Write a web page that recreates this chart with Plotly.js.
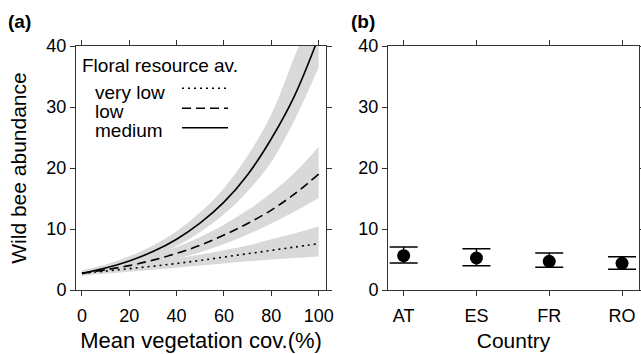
<!DOCTYPE html>
<html>
<head>
<meta charset="utf-8">
<script src="https://cdn.plot.ly/plotly-3.0.1.min.js"></script>
<style>html,body{margin:0;padding:0;background:#fff;}#chart{width:641px;height:354px;}</style>
</head>
<body>
<div id="chart"></div>
<script>
// ---- Data: panel (a) ----
const vegCover = [0, 10, 20, 30, 40, 50, 60, 70, 80, 90, 100];
const veryLowMean  = [2.73, 3.1, 3.5, 3.9, 4.35, 4.85, 5.4, 5.95, 6.5, 7.05, 7.6];
const veryLowLower = [2.35, 2.7, 3.0, 3.3, 3.65, 4.0, 4.35, 4.7, 5.0, 5.25, 5.5];
const veryLowUpper = [3.2, 3.6, 4.1, 4.6, 5.15, 5.8, 6.5, 7.3, 8.3, 9.3, 10.4];
const lowMean  = [2.73, 3.32, 4.0, 4.9, 6.0, 7.35, 9.0, 10.9, 13.1, 15.8, 19.0];
const lowLower = [2.35, 2.85, 3.45, 4.2, 5.1, 6.2, 7.55, 9.1, 10.9, 12.9, 15.1];
const lowUpper = [3.2, 3.85, 4.65, 5.7, 7.05, 8.7, 10.7, 13.1, 15.9, 19.3, 23.5];
const mediumMean  = [2.73, 3.61, 4.77, 6.3, 8.33, 11.0, 14.4, 18.9, 24.8, 32.0, 41.5];
const mediumLower = [2.35, 3.1, 4.1, 5.45, 7.2, 9.5, 12.4, 16.2, 21.0, 28.0, 36.5];
const mediumUpper = [3.2, 4.2, 5.55, 7.3, 9.65, 12.75, 16.7, 22.0, 28.8, 38.5, 48.0];
const vegTicks = [0, 20, 40, 60, 80, 100];
const levelNames = ['very low', 'low', 'medium'];

// ---- Data: panel (b) ----
const countries = ['AT', 'ES', 'FR', 'RO'];
const countryMean  = [5.62, 5.25, 4.7, 4.37];
const countryUpper = [7.05, 6.77, 6.07, 5.46];
const countryLower = [4.43, 3.98, 3.72, 3.39];
const abundanceTicks = [0, 10, 20, 30, 40];

// ---- helpers (pixel -> paper) ----
const W = 641, H = 354;
const px = v => v / W;
const py = v => 1 - v / H;
const FONT = 'Liberation Sans, Arial, sans-serif';
const BAND = '#d9d9d9';
const DOT = '2px,4px';
const DASH = '9px,5px';

function band(lower, upper) {
  return [
    {x: vegCover, y: lower, mode: 'lines', line: {width: 0, shape: 'spline'}, showlegend: false, hoverinfo: 'skip', xaxis: 'x', yaxis: 'y'},
    {x: vegCover, y: upper, mode: 'lines', line: {width: 0, shape: 'spline'}, fill: 'tonexty', fillcolor: BAND, showlegend: false, hoverinfo: 'skip', xaxis: 'x', yaxis: 'y'}
  ];
}
function meanLine(y, dash, name) {
  return {x: vegCover, y: y, mode: 'lines', name: name, line: {color: '#000', width: 1.6, dash: dash, shape: 'spline'}, showlegend: false, xaxis: 'x', yaxis: 'y'};
}

const traces = [
  ...band(veryLowLower, veryLowUpper),
  ...band(lowLower, lowUpper),
  ...band(mediumLower, mediumUpper),
  meanLine(veryLowMean, DOT, levelNames[0]),
  meanLine(lowMean, DASH, levelNames[1]),
  meanLine(mediumMean, 'solid', levelNames[2]),
  {
    x: countries, y: countryMean, mode: 'markers', xaxis: 'x2', yaxis: 'y2', showlegend: false,
    marker: {size: 13, color: '#000'},
    error_y: {type: 'data', symmetric: false,
      array: countryUpper.map((u, i) => u - countryMean[i]),
      arrayminus: countryLower.map((l, i) => countryMean[i] - l),
      color: '#000', thickness: 1.5, width: 14}
  }
];

const axisCommon = {
  showline: true, mirror: 'ticks', linecolor: '#333', linewidth: 1,
  ticks: 'outside', ticklen: 5, tickcolor: '#333', tickwidth: 1,
  showgrid: false, zeroline: false,
  tickfont: {family: FONT, size: 18, color: '#000'}
};
const yDomain = [py(290), py(46)];

const layout = {
  width: W, height: H,
  margin: {l: 0, r: 0, t: 0, b: 0},
  paper_bgcolor: '#fff', plot_bgcolor: '#fff',
  font: {family: FONT, color: '#000'},
  showlegend: false,
  xaxis: Object.assign({}, axisCommon, {
    domain: [px(76), px(326)], anchor: 'y', range: [-2.5, 103.1], tickvals: vegTicks,
    ticklabelstandoff: 4,
    title: {text: 'Mean vegetation cov.(%)', font: {family: FONT, size: 22, color: '#000'}, standoff: 8}
  }),
  yaxis: Object.assign({}, axisCommon, {
    domain: yDomain, anchor: 'x', range: [0, 40], tickvals: abundanceTicks,
    title: {text: 'Wild bee abundance', font: {family: FONT, size: 21, color: '#000'}, standoff: 14}
  }),
  xaxis2: Object.assign({}, axisCommon, {
    domain: [px(388), px(639)], anchor: 'y2', type: 'category', range: [-0.215, 3.233],
    ticklabelstandoff: 4,
    title: {text: 'Country', font: {family: FONT, size: 21, color: '#000'}, standoff: 8}
  }),
  yaxis2: Object.assign({}, axisCommon, {
    domain: yDomain, anchor: 'x2', range: [0, 40], tickvals: abundanceTicks
  }),
  annotations: [
    {text: '<b>(a)</b>', xref: 'paper', yref: 'paper', x: px(6), y: py(22), xanchor: 'left', yanchor: 'middle', showarrow: false, font: {family: FONT, size: 19}},
    {text: '<b>(b)</b>', xref: 'paper', yref: 'paper', x: px(349), y: py(22), xanchor: 'left', yanchor: 'middle', showarrow: false, font: {family: FONT, size: 19}},
    {text: 'Floral resource av.', xref: 'paper', yref: 'paper', x: px(80), y: py(66), xanchor: 'left', yanchor: 'middle', showarrow: false, font: {family: FONT, size: 19}},
    {text: levelNames[0], xref: 'paper', yref: 'paper', x: px(93), y: py(92), xanchor: 'left', yanchor: 'middle', showarrow: false, font: {family: FONT, size: 19}},
    {text: levelNames[1], xref: 'paper', yref: 'paper', x: px(93), y: py(111), xanchor: 'left', yanchor: 'middle', showarrow: false, font: {family: FONT, size: 19}},
    {text: levelNames[2], xref: 'paper', yref: 'paper', x: px(93), y: py(130), xanchor: 'left', yanchor: 'middle', showarrow: false, font: {family: FONT, size: 19}}
  ],
  shapes: [
    {type: 'line', xref: 'paper', yref: 'paper', x0: px(182), x1: px(228), y0: py(88.3), y1: py(88.3), line: {color: '#000', width: 1.6, dash: DOT}},
    {type: 'line', xref: 'paper', yref: 'paper', x0: px(182), x1: px(228), y0: py(108.3), y1: py(108.3), line: {color: '#000', width: 1.6, dash: DASH}},
    {type: 'line', xref: 'paper', yref: 'paper', x0: px(182), x1: px(228), y0: py(127.7), y1: py(127.7), line: {color: '#000', width: 1.6}}
  ]
};

Plotly.newPlot('chart', traces, layout, {staticPlot: true, displayModeBar: false});
</script>
</body>
</html>
